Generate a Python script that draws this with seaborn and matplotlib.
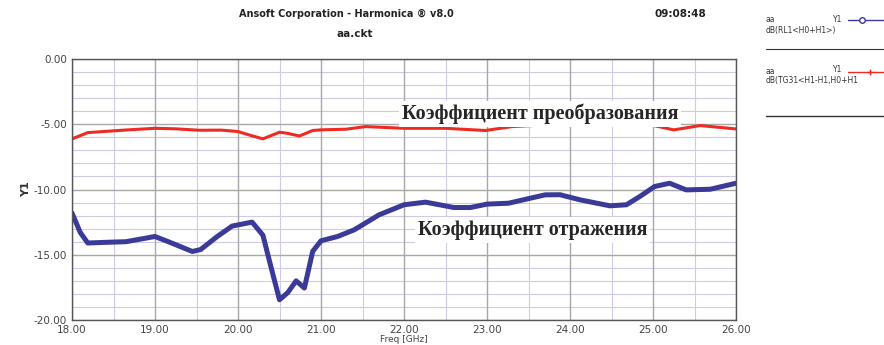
import matplotlib
matplotlib.use("Agg")
import matplotlib.pyplot as plt
from matplotlib.ticker import MultipleLocator, FormatStrFormatter
import seaborn as sns
import pandas as pd

# Reflection coefficient (blue)
refl_freq = [18.0, 18.1, 18.19, 18.4, 18.65, 19.0, 19.2, 19.45, 19.55, 19.75, 19.93, 20.17, 20.3,
             20.4, 20.5, 20.6, 20.7, 20.8, 20.9, 21.0, 21.2, 21.4, 21.7, 22.0, 22.26, 22.6, 22.8,
             23.0, 23.26, 23.5, 23.7, 23.88, 24.12, 24.48, 24.68, 24.85, 25.02, 25.2, 25.4, 25.69, 26.0]
refl_db = [-11.8, -13.3, -14.1, -14.05, -14.0, -13.6, -14.1, -14.75, -14.6, -13.6, -12.8, -12.5, -13.5,
           -16.0, -18.45, -17.9, -17.0, -17.55, -14.74, -13.93, -13.6, -13.09, -11.94, -11.17, -10.97, -11.38, -11.38,
           -11.12, -11.05, -10.7, -10.41, -10.4, -10.79, -11.25, -11.17, -10.5, -9.77, -9.52, -10.03, -9.98, -9.52]

# Conversion coefficient (red)
conv_freq = [18.0, 18.19, 18.4, 18.65, 19.0, 19.25, 19.53, 19.8, 20.0, 20.15, 20.3, 20.5, 20.6, 20.74,
             20.9, 21.0, 21.3, 21.54, 22.0, 22.5, 22.98, 23.3, 23.7, 24.1, 24.5, 24.9, 25.25, 25.57, 26.0]
conv_db = [-6.12, -5.64, -5.55, -5.44, -5.31, -5.35, -5.46, -5.45, -5.56, -5.85, -6.12, -5.61, -5.7, -5.9,
           -5.48, -5.43, -5.38, -5.18, -5.31, -5.31, -5.48, -5.18, -5.05, -4.95, -4.95, -4.95, -5.43, -5.1, -5.36]

x_ticks = [18, 19, 20, 21, 22, 23, 24, 25, 26]
y_ticks = [0, -5, -10, -15, -20]

title_text = "Ansoft Corporation - Harmonica \u00ae v8.0"
subtitle_text = "aa.ckt"
time_text = "09:08:48"
label_conv = "Коэффициент преобразования"
label_refl = "Коэффициент отражения"

sns.set_style("white")
plt.rcParams['font.family'] = ['DejaVu Sans']

df_refl = pd.DataFrame({"Freq": refl_freq, "dB": refl_db})
df_conv = pd.DataFrame({"Freq": conv_freq, "dB": conv_db})

fig = plt.figure(figsize=(8.84, 3.45), dpi=100)
ax = fig.add_axes([72/884, 1-320/345, (736-72)/884, (320-59)/345])

ax.xaxis.set_minor_locator(MultipleLocator(0.5))
ax.grid(which="minor", axis="x", color="#cfcbe6", linewidth=0.8)
ax.grid(which="major", color="#a8a8a8", linewidth=1.0)
ax.set_axisbelow(True)
for v in range(-19, 0):
    if v % 5 != 0:
        ax.axhline(v, color="#cfcbe6", linewidth=0.8, zorder=0)

sns.lineplot(data=df_conv, x="Freq", y="dB", ax=ax, color="#ee2a22", linewidth=2.2)
sns.lineplot(data=df_refl, x="Freq", y="dB", ax=ax, color="#3a3a98", linewidth=3.6)

ax.set_xlim(18, 26)
ax.set_ylim(-20, 0)
ax.set_xticks(x_ticks)
ax.set_yticks(y_ticks)
ax.yaxis.set_minor_locator(MultipleLocator(0.5))
ax.xaxis.set_major_formatter(FormatStrFormatter("%.2f"))
ax.yaxis.set_major_formatter(FormatStrFormatter("%.2f"))
ax.tick_params(which="major", direction="out", length=3, width=1, color="#555555",
               labelsize=7.5, labelcolor="#444444", pad=0.5)
ax.tick_params(which="minor", direction="out", length=2, width=0.8, color="#777777")
for s in ax.spines.values():
    s.set_color("#555555")
    s.set_linewidth(1.0)

ax.set_xlabel("Freq [GHz]", fontsize=6.5, color="#444444", labelpad=0)
ax.set_ylabel("Y1", fontsize=8, fontweight="bold", color="#333333", labelpad=2)

box = dict(facecolor="white", edgecolor="none", pad=2)
ax.text(23.64, -4.2, label_conv, fontsize=14.5, fontweight="bold", family="Liberation Serif",
        ha="center", va="center", bbox=box, zorder=5)
ax.text(23.55, -13.1, label_refl, fontsize=14.5, fontweight="bold", family="Liberation Serif",
        ha="center", va="center", bbox=box, zorder=5)

fig.text(346/884, 1-14/345, title_text, fontsize=7, fontweight="bold", ha="center", va="center", color="#222222")
fig.text(355/884, 1-34/345, subtitle_text, fontsize=7.5, fontweight="bold", ha="center", va="center", color="#222222")
fig.text(680/884, 1-14/345, time_text, fontsize=7.5, fontweight="bold", ha="center", va="center", color="#222222")

# legend area
fig.text(766/884, 1-20/345, "aa", fontsize=5.5, color="#333333", va="center")
fig.text(833/884, 1-19/345, "Y1", fontsize=5.5, color="#333333", va="center")
fig.text(766/884, 1-30/345, "dB(RL1<H0+H1>)", fontsize=5.5, color="#333333", va="center")
fig.add_artist(plt.Line2D([848/884, 884/884], [1-20/345, 1-20/345], color="#3a3a98", linewidth=1.0))
fig.add_artist(plt.Line2D([862/884], [1-20/345], marker="o", markersize=4, markerfacecolor="white",
                          markeredgecolor="#3a3a98", linestyle="none"))
fig.add_artist(plt.Line2D([766/884, 884/884], [1-49/345, 1-49/345], color="#333333", linewidth=0.8))
fig.text(766/884, 1-71/345, "aa", fontsize=5.5, color="#333333", va="center")
fig.text(833/884, 1-70/345, "Y1", fontsize=5.5, color="#333333", va="center")
fig.text(766/884, 1-80/345, "dB(TG31<H1-H1,H0+H1", fontsize=5.5, color="#333333", va="center")
fig.add_artist(plt.Line2D([848/884, 884/884], [1-72/345, 1-72/345], color="#ee2a22", linewidth=1.0))
fig.add_artist(plt.Line2D([870/884], [1-72/345], marker="+", markersize=5, color="#ee2a22", linestyle="none"))
fig.add_artist(plt.Line2D([766/884, 884/884], [1-116/345, 1-116/345], color="#333333", linewidth=1.0))

fig.savefig("out.png", dpi=100)
